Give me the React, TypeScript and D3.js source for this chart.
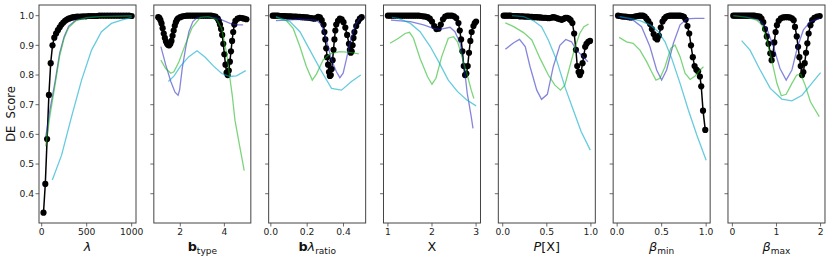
import React from "react";
import * as d3 from "d3";

// figure layout
const W = 831;
const H = 261;
const top = 5;
const bottom = 223;
const panelW = 97;
const firstLeft = 39;
const step = 114.83;

const yTicks = [0.4, 0.5, 0.6, 0.7, 0.8, 0.9, 1.0];

// ---- lambda ----
const lambdaBlack = [[20,.336],[40,.433],[60,.584],[80,.733],[100,.84],[120,.90],[140,.926],[160,.940],[180,.951],[200,.961],[220,.970],[240,.977],[260,.983],[280,.987],[300,.990],[320,.992],[340,.994],[360,.995],[380,.996],[400,.997],[430,.997],[460,.998],[490,.998],[520,.999],[550,.999],[580,.999],[610,.999],[640,1],[670,1],[700,1],[730,1],[760,1],[790,1],[820,1],[850,1],[880,1],[910,1],[940,1],[970,1],[1000,.999]];
const lambdaBlue = [[44,.59],[90,.68],[150,.78],[200,.875],[250,.93],[300,.965],[380,.985],[500,.994],[650,.998],[1000,1]];
const lambdaGreen = [[44,.56],[90,.66],[150,.77],[200,.865],[250,.925],[300,.96],[380,.983],[500,.993],[650,.997],[1000,.999]];
const lambdaCyan = [[118,.446],[221,.53],[332,.66],[443,.783],[554,.884],[664,.946],[775,.974],[886,.985],[1000,.994]];

// ---- b_type ----
const btypeBlack = [[1.0,.995],[1.05,.993],[1.1,.985],[1.15,.974],[1.2,.958],[1.25,.94],[1.3,.925],[1.35,.913],[1.4,.905],[1.45,.901],[1.5,.900],[1.55,.905],[1.6,.915],[1.65,.932],[1.7,.950],[1.75,.966],[1.8,.978],[1.85,.986],[1.9,.991],[2.0,.995],[2.1,.998],[2.2,.999],[2.3,1],[2.4,1],[2.5,1],[2.6,1],[2.7,1],[2.8,1],[2.9,1],[3.0,1],[3.1,1],[3.2,1],[3.3,1],[3.4,1],[3.5,.999],[3.6,.997],[3.7,.99],[3.75,.982],[3.8,.97],[3.85,.955],[3.9,.935],[3.95,.905],[4.0,.87],[4.05,.835],[4.1,.808],[4.15,.80],[4.2,.815],[4.25,.845],[4.3,.88],[4.35,.915],[4.4,.945],[4.45,.97],[4.5,.983],[4.6,.99],[4.7,.993],[4.8,.992],[4.9,.99],[5.0,.988]];
const btypeBlue = [[1.12,.896],[1.34,.834],[1.57,.778],[1.76,.742],[1.9,.732],[1.97,.75],[2.09,.823],[2.24,.89],[2.39,.946],[2.57,.98],[2.76,.993],[3.13,.997],[3.58,.993],[3.88,.986],[4.26,.974],[4.56,.969],[4.85,.969]];
const btypeGreen = [[1.12,.85],[1.34,.822],[1.57,.806],[1.71,.811],[1.94,.845],[2.24,.905],[2.54,.96],[2.91,.994],[3.28,.997],[3.66,.986],[3.88,.955],[4.11,.87],[4.25,.79],[4.36,.73],[4.48,.648],[4.7,.558],[4.9,.478]];
const btypeCyan = [[1.46,.778],[1.72,.797],[2.01,.83],[2.39,.862],[2.76,.882],[3.13,.86],[3.51,.83],[3.88,.805],[4.25,.795],[4.55,.797],[4.97,.815]];

// ---- b lambda ratio ----
const ratioBlack = [[0.01,1],[0.02,1],[0.03,1],[0.04,1],[0.05,.999],[0.06,.999],[0.07,.999],[0.08,.999],[0.09,.998],[0.1,.998],[0.11,.998],[0.12,.997],[0.13,.997],[0.14,.997],[0.15,.996],[0.16,.996],[0.17,.995],[0.18,.995],[0.19,.994],[0.2,.994],[0.21,.993],[0.22,.992],[0.23,.991],[0.24,.99],[0.25,.992],[0.26,.996],[0.27,.994],[0.28,.985],[0.29,.97],[0.295,.945],[0.30,.92],[0.305,.89],[0.31,.86],[0.315,.835],[0.32,.81],[0.325,.797],[0.33,.80],[0.335,.82],[0.34,.85],[0.345,.885],[0.35,.92],[0.355,.95],[0.36,.97],[0.37,.983],[0.38,.99],[0.39,.988],[0.40,.978],[0.41,.96],[0.42,.935],[0.43,.905],[0.435,.885],[0.44,.875],[0.445,.88],[0.45,.9],[0.455,.925],[0.46,.945],[0.47,.965],[0.48,.98],[0.49,.99],[0.5,.995]];
const ratioBlue = [[0.028,.983],[0.16,.988],[0.25,.985],[0.279,.969],[0.306,.918],[0.334,.851],[0.361,.811],[0.38,.791],[0.398,.806],[0.417,.856],[0.435,.907],[0.453,.946],[0.472,.976],[0.495,.994]];
const ratioGreen = [[0.028,.994],[0.086,.983],[0.123,.957],[0.16,.896],[0.196,.828],[0.228,.783],[0.251,.803],[0.288,.851],[0.325,.871],[0.38,.879],[0.435,.876],[0.484,.871]];
const ratioCyan = [[0.028,.997],[0.105,.98],[0.16,.946],[0.215,.884],[0.27,.822],[0.334,.755],[0.389,.749],[0.444,.778],[0.495,.8]];

// ---- X ----
const xBlack = [[1.0,1],[1.05,1],[1.1,1],[1.15,1],[1.2,1],[1.25,1],[1.3,1],[1.35,1],[1.4,1],[1.45,1],[1.5,1],[1.55,1],[1.6,1],[1.65,1],[1.7,1],[1.75,.999],[1.8,.998],[1.85,.997],[1.9,.995],[1.95,.99],[2.0,.98],[2.05,.965],[2.1,.955],[2.15,.956],[2.2,.97],[2.25,.988],[2.3,.997],[2.35,1],[2.4,1],[2.45,1],[2.5,.998],[2.55,.992],[2.6,.975],[2.63,.95],[2.66,.92],[2.69,.88],[2.72,.83],[2.75,.80],[2.78,.805],[2.81,.83],[2.84,.875],[2.87,.915],[2.9,.945],[2.94,.965],[2.97,.975],[3.0,.98]];
const xBlue = [[1.07,.985],[1.51,.98],[1.81,.969],[2.03,.957],[2.18,.954],[2.41,.961],[2.52,.946],[2.64,.907],[2.73,.828],[2.8,.738],[2.89,.66],[2.93,.62]];
const xGreen = [[1.05,.907],[1.24,.924],[1.39,.94],[1.49,.944],[1.58,.924],[1.73,.856],[1.9,.794],[2.0,.769],[2.09,.789],[2.22,.862],[2.37,.924],[2.49,.929],[2.58,.912],[2.68,.862],[2.79,.806],[2.89,.749],[2.95,.721]];
const xCyan = [[1.09,.994],[1.24,.991],[1.51,.974],[1.73,.946],[1.96,.896],[2.15,.845],[2.37,.783],[2.58,.744],[2.79,.716],[3.0,.696]];

// ---- P[X] ----
const pxBlack = [[0.01,1],[0.03,1],[0.05,1],[0.07,1],[0.09,1],[0.11,.999],[0.13,.999],[0.15,.999],[0.17,.999],[0.19,.998],[0.21,.998],[0.23,.998],[0.25,.997],[0.27,.997],[0.29,.997],[0.31,.996],[0.33,.996],[0.35,.995],[0.37,.995],[0.39,.995],[0.41,.994],[0.43,.994],[0.45,.993],[0.47,.993],[0.49,.993],[0.51,.992],[0.53,.992],[0.55,.993],[0.57,.995],[0.59,.994],[0.61,.992],[0.63,.99],[0.65,.988],[0.67,.986],[0.69,.989],[0.71,.993],[0.73,.993],[0.75,.99],[0.77,.985],[0.79,.975],[0.81,.94],[0.83,.885],[0.845,.83],[0.86,.81],[0.875,.80],[0.89,.81],[0.905,.84],[0.92,.865],[0.935,.895],[0.95,.905],[0.97,.912],[0.99,.915]];
const pxBlue = [[0.03,.887],[0.124,.909],[0.19,.92],[0.255,.896],[0.31,.828],[0.386,.749],[0.44,.718],[0.506,.735],[0.573,.828],[0.648,.9],[0.715,.92],[0.78,.912],[0.835,.884],[0.91,.862],[0.966,.845]];
const pxGreen = [[0.03,.976],[0.124,.963],[0.236,.943],[0.33,.918],[0.423,.856],[0.517,.8],[0.592,.766],[0.655,.749],[0.704,.766],[0.76,.828],[0.816,.89],[0.873,.94],[0.921,.963],[0.974,.972]];
const pxCyan = [[0.105,1.0],[0.236,.997],[0.348,.983],[0.44,.963],[0.517,.918],[0.61,.851],[0.704,.761],[0.8,.682],[0.89,.609],[0.993,.547]];

// ---- beta min ----
const bminBlack = [[0.01,1],[0.03,.999],[0.05,.998],[0.07,.997],[0.09,.997],[0.11,.996],[0.13,.995],[0.15,.994],[0.17,.995],[0.19,.996],[0.21,.998],[0.23,.999],[0.25,1],[0.27,1],[0.29,1],[0.31,.997],[0.33,.99],[0.35,.982],[0.37,.972],[0.39,.955],[0.41,.938],[0.43,.925],[0.45,.92],[0.47,.932],[0.49,.96],[0.51,.98],[0.53,.99],[0.55,.996],[0.57,.999],[0.59,1],[0.61,1],[0.63,1],[0.65,1],[0.67,1],[0.69,1],[0.71,1],[0.73,.999],[0.75,.996],[0.77,.987],[0.79,.965],[0.81,.94],[0.83,.9],[0.85,.86],[0.87,.83],[0.89,.818],[0.91,.812],[0.93,.795],[0.945,.762],[0.965,.68],[0.99,.615]];
const bminBlue = [[0.011,.997],[0.18,.985],[0.274,.963],[0.368,.896],[0.444,.817],[0.5,.783],[0.556,.817],[0.632,.907],[0.707,.969],[0.782,.989],[0.876,.991],[0.981,.991]];
const bminGreen = [[0.023,.927],[0.105,.912],[0.18,.907],[0.256,.884],[0.331,.845],[0.387,.811],[0.436,.783],[0.481,.789],[0.538,.828],[0.602,.89],[0.65,.901],[0.707,.862],[0.763,.806],[0.82,.785],[0.876,.797],[0.932,.817],[0.97,.828]];
const bminCyan = [[0.03,.997],[0.143,.991],[0.256,.983],[0.368,.969],[0.462,.946],[0.538,.912],[0.613,.856],[0.707,.772],[0.8,.682],[0.895,.598],[1.0,.513]];

// ---- beta max ----
const bmaxBlack = [[0.02,1],[0.06,1],[0.1,1],[0.14,1],[0.18,1],[0.22,1],[0.26,1],[0.3,1],[0.34,1],[0.38,1],[0.42,1],[0.46,1],[0.5,1],[0.54,.999],[0.58,.998],[0.62,.997],[0.66,.99],[0.7,.978],[0.74,.955],[0.78,.93],[0.82,.905],[0.86,.873],[0.89,.85],[0.92,.87],[0.95,.91],[0.98,.945],[1.01,.968],[1.05,.983],[1.1,.991],[1.15,.994],[1.2,.995],[1.25,.995],[1.3,.994],[1.35,.991],[1.39,.985],[1.42,.962],[1.46,.93],[1.49,.895],[1.52,.86],[1.55,.83],[1.58,.8],[1.61,.81],[1.64,.84],[1.67,.875],[1.7,.907],[1.73,.94],[1.77,.968],[1.81,.985],[1.86,.993],[1.92,.997],[1.98,.999]];
const bmaxBlue = [[0.02,1.0],[0.4,.994],[0.63,.983],[0.78,.957],[0.93,.896],[1.08,.822],[1.22,.783],[1.35,.817],[1.48,.896],[1.61,.952],[1.77,.98],[1.99,.991]];
const bmaxGreen = [[0.02,1.0],[0.33,.994],[0.55,.985],[0.67,.969],[0.78,.918],[0.89,.851],[1.01,.772],[1.11,.73],[1.22,.735],[1.35,.772],[1.46,.8],[1.55,.803],[1.65,.766],[1.77,.71],[1.88,.682],[1.97,.66]];
const bmaxCyan = [[0.21,.916],[0.4,.884],[0.63,.817],[0.86,.755],[1.12,.719],[1.35,.713],[1.58,.732],[1.8,.772],[2.0,.808]];

const blueC = "#2020c0";
const greenC = "#10b010";
const cyanC = "#00a8c8";

const font = "DejaVu Sans, sans-serif";

const labels: Record<string, React.ReactNode> = {
  lambda: <tspan fontStyle="italic">λ</tspan>,
  btype: (
    <>
      <tspan fontWeight="bold">b</tspan>
      <tspan fontSize={9} dy={3}>type</tspan>
    </>
  ),
  ratio: (
    <>
      <tspan fontWeight="bold">b</tspan>
      <tspan fontStyle="italic">λ</tspan>
      <tspan fontSize={9} dy={3}>ratio</tspan>
    </>
  ),
  x: <tspan>X</tspan>,
  px: (
    <>
      <tspan fontStyle="italic">P</tspan>
      <tspan>[X]</tspan>
    </>
  ),
  bmin: (
    <>
      <tspan fontStyle="italic">β</tspan>
      <tspan fontSize={9} dy={3}>min</tspan>
    </>
  ),
  bmax: (
    <>
      <tspan fontStyle="italic">β</tspan>
      <tspan fontSize={9} dy={3}>max</tspan>
    </>
  ),
};

const panels = [
  { key: "lambda", domain: [-30, 1048], ticks: [0, 500, 1000], fmt: "d", black: lambdaBlack, blue: lambdaBlue, green: lambdaGreen, cyan: lambdaCyan },
  { key: "btype", domain: [0.8, 5.2], ticks: [2, 4], fmt: "d", black: btypeBlack, blue: btypeBlue, green: btypeGreen, cyan: btypeCyan },
  { key: "ratio", domain: [-0.012, 0.522], ticks: [0, 0.2, 0.4], fmt: ".1f", black: ratioBlack, blue: ratioBlue, green: ratioGreen, cyan: ratioCyan },
  { key: "x", domain: [0.9, 3.1], ticks: [1, 2, 3], fmt: "d", black: xBlack, blue: xBlue, green: xGreen, cyan: xCyan },
  { key: "px", domain: [-0.05, 1.05], ticks: [0, 0.5, 1], fmt: ".1f", black: pxBlack, blue: pxBlue, green: pxGreen, cyan: pxCyan },
  { key: "bmin", domain: [-0.045, 1.045], ticks: [0, 0.5, 1], fmt: ".1f", black: bminBlack, blue: bminBlue, green: bminGreen, cyan: bminCyan },
  { key: "bmax", domain: [-0.1, 2.1], ticks: [0, 1, 2], fmt: "d", black: bmaxBlack, blue: bmaxBlue, green: bmaxGreen, cyan: bmaxCyan },
];

const y = d3.scaleLinear().domain([0.3013, 1.036]).range([bottom, top]);

function Panel({ p, i }: { p: any; i: number }) {
  const left = firstLeft + i * step;
  const x = d3.scaleLinear().domain(p.domain).range([left, left + panelW]);
  const line = d3.line<number[]>().x((d) => x(d[0])).y((d) => y(d[1]));
  const fmt = d3.format(p.fmt);
  const clipId = `clip-${p.key}`;
  return (
    <g>
      <clipPath id={clipId}>
        <rect x={left} y={top} width={panelW} height={bottom - top} />
      </clipPath>
      <g clipPath={`url(#${clipId})`}>
        <path d={line(p.black) || ""} fill="none" stroke="#000" strokeWidth={1.5} />
        {p.black.map((d: number[], j: number) => (
          <circle key={j} cx={x(d[0])} cy={y(d[1])} r={3.1} fill="#000" />
        ))}
        <path d={line(p.blue) || ""} fill="none" stroke={blueC} strokeOpacity={0.55} strokeWidth={1.3} />
        <path d={line(p.green) || ""} fill="none" stroke={greenC} strokeOpacity={0.55} strokeWidth={1.3} />
        <path d={line(p.cyan) || ""} fill="none" stroke={cyanC} strokeOpacity={0.6} strokeWidth={1.3} />
      </g>
      <rect x={left} y={top} width={panelW} height={bottom - top} fill="none" stroke="#444" strokeWidth={1} />
      {yTicks.map((t) => (
        <g key={t}>
          <line x1={left - 3.5} x2={left} y1={y(t)} y2={y(t)} stroke="#444" strokeWidth={0.8} />
          {i === 0 && (
            <text x={left - 5} y={y(t) + 3.3} textAnchor="end" fontSize={9.2} fontFamily={font} fill="#222">
              {d3.format(".1f")(t)}
            </text>
          )}
        </g>
      ))}
      {p.ticks.map((t: number) => (
        <g key={t}>
          <line x1={x(t)} x2={x(t)} y1={bottom} y2={bottom + 3.5} stroke="#444" strokeWidth={0.8} />
          <text x={x(t)} y={234.7} textAnchor="middle" fontSize={9.2} fontFamily={font} fill="#222">
            {fmt(t)}
          </text>
        </g>
      ))}
      <text x={left + panelW / 2} y={250.5} textAnchor="middle" fontSize={12.8} fontFamily={font} fill="#111">
        {labels[p.key]}
      </text>
    </g>
  );
}

export default function App() {
  return (
    <svg width={W} height={H} style={{ position: "absolute", left: 0, top: 0, background: "#fff" }}>
      <rect width={W} height={H} fill="#fff" />
      {panels.map((p, i) => (
        <Panel key={p.key} p={p} i={i} />
      ))}
      <text
        transform={`translate(15,114) rotate(-90)`}
        textAnchor="middle"
        fontSize={11.5}
        fontFamily={font}
        fill="#111"
        style={{ whiteSpace: "pre" }}
      >
        {"DE  Score"}
      </text>
    </svg>
  );
}
